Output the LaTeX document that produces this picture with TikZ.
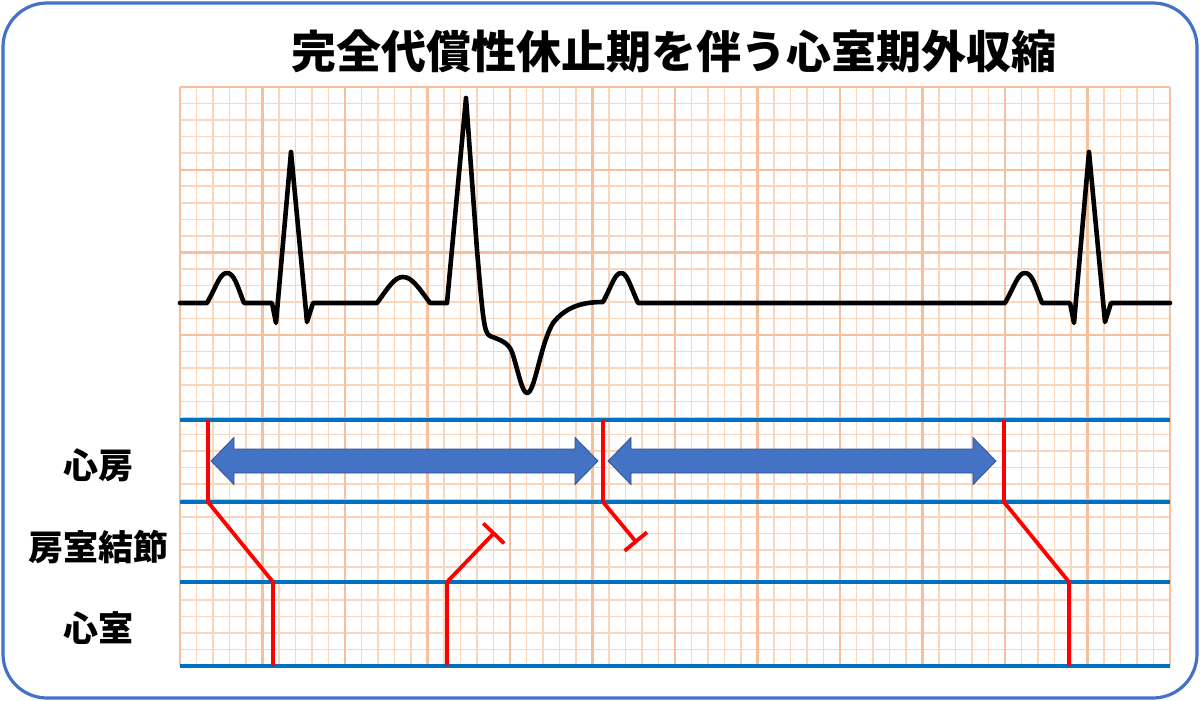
\documentclass[tikz,border=0pt]{standalone}
\usepackage{fontspec}
\newfontfamily\jpfont{Noto Sans CJK JP}
\usepackage{tikz}
\usetikzlibrary{arrows.meta,positioning}
\definecolor{gridmajor}{RGB}{246,192,156}
\definecolor{gridminor}{RGB}{250,214,190}
\definecolor{laneblue}{RGB}{0,112,192}
\definecolor{arrowblue}{RGB}{68,114,196}
\definecolor{arrowedge}{RGB}{47,82,143}
\tikzset{
  minorline/.style = {gridminor, line width=0.8pt},
  majorline/.style = {gridmajor, line width=1.2pt},
  laneline/.style = {laneblue, line width=2.4pt},
  ecgline/.style = {black, line width=2.3pt, line join=round, line cap=round},
  conduct/.style = {red, line width=1.9pt},% conduction
  blocked/.style = {conduct, -{Bar[width=14.5pt]}},% conduction blocked
  titletext/.style = {font=\jpfont\bfseries\fontsize{22.5}{26}\selectfont},
  lanetext/.style = {font=\jpfont\bfseries\fontsize{17.5}{20}\selectfont}
}
% fat double arrow from #1 to #2 (pixel x), centred on y=461
\newcommand{\fatarrow}[2]{%
  \filldraw[fill=arrowblue, draw=arrowedge, line width=0.4pt]
    (#1,461) -- ({#1+23},437.5) -- ({#1+23},449) -- ({#2-23},449)
    -- ({#2-23},437.5) -- (#2,461) -- ({#2-23},484.5) -- ({#2-23},473)
    -- ({#1+23},473) -- ({#1+23},484.5) -- cycle;}

\begin{document}
\begin{tikzpicture}[x=0.5pt,y=-0.5pt]
        \useasboundingbox (0,0) rectangle (1200,701);
        \draw[arrowblue, line width=1.6pt, rounded corners=22pt] (3,3) rectangle (1197,698);
        \node[titletext] (title) at (674,51) {完全代償性休止期を伴う心室期外収縮};

        % grid
        \foreach \i in {0,...,60}
            \draw[minorline] ({180+16.5*\i},87) -- ({180+16.5*\i},666);
        \foreach \j in {0,...,35}
            \draw[minorline] (180,{87+16.543*\j}) -- (1170,{87+16.543*\j});
        \foreach \i in {0,5,...,60}
            \draw[majorline] ({180+16.5*\i},87) -- ({180+16.5*\i},666);
        \foreach \j in {0,5,...,35}
            \draw[majorline] (180,{87+16.543*\j}) -- (1170,{87+16.543*\j});

        % lanes
        \foreach \y in {420,502,582,666}
            \draw[laneline] (180,\y) -- (1170,\y);
        \node[lanetext] (atrium) at (98,465) {心房};
        \node[lanetext] (avnode) at (98,547) {房室結節};
        \node[lanetext] (ventricle) at (98,628) {心室};

        % ecg
        \draw[ecgline] (180,303) -- (207,303)
            .. controls (217,285) and (220,273) .. (227,273)
            .. controls (234,273) and (237,285) .. (244,303)
            -- (272,303) -- (276,323) -- (291,152) -- (307,322) -- (313,303)
            -- (377,303)
            .. controls (390,285) and (395,277) .. (403,277)
            .. controls (411,277) and (417,285) .. (430,303)
            -- (447,303) -- (466,98) -- (477,250)
            .. controls (483,320) and (484,333) .. (490,336)
            .. controls (500,340) and (508,342) .. (512,352)
            .. controls (518,370) and (522,393) .. (527,393)
            .. controls (535,393) and (540,345) .. (553,323)
            .. controls (565,308) and (580,302) .. (603,302)
            .. controls (612,285) and (615,273) .. (621,273)
            .. controls (627,273) and (630,285) .. (638,303)
            -- (1005,303)
            .. controls (1015,285) and (1018,273) .. (1025,273)
            .. controls (1032,273) and (1035,285) .. (1042,303)
            -- (1070,303) -- (1074,323) -- (1089,152) -- (1105,322) -- (1111,303)
            -- (1170,303);

        \fatarrow{211}{598}
        \fatarrow{608}{996}

        % conduction
        \coordinate (a1t) at (208,420);
        \coordinate (a1b) at (208,502);
        \coordinate (v1t) at (273,582);
        \coordinate (v1b) at (273,666);
        \coordinate (pvct) at (447,582);
        \coordinate (pvcb) at (447,666);
        \coordinate (pvcblk) at (495,532);
        \coordinate (a2t) at (603,420);
        \coordinate (a2b) at (603,502);
        \coordinate (a2blk) at (637,543);
        \coordinate (a3t) at (1004,420);
        \coordinate (a3b) at (1004,502);
        \coordinate (v3t) at (1069,582);
        \coordinate (v3b) at (1069,666);
        \draw[conduct] (a1t) -- (a1b) -- (v1t) -- (v1b);
        \draw[conduct] (pvcb) -- (pvct);
        \draw[blocked] (pvct) -- (pvcblk);
        \draw[conduct] (a2t) -- (a2b);
        \draw[blocked] (a2b) -- (a2blk);
        \draw[conduct] (a3t) -- (a3b) -- (v3t) -- (v3b);
\end{tikzpicture}
\end{document}
